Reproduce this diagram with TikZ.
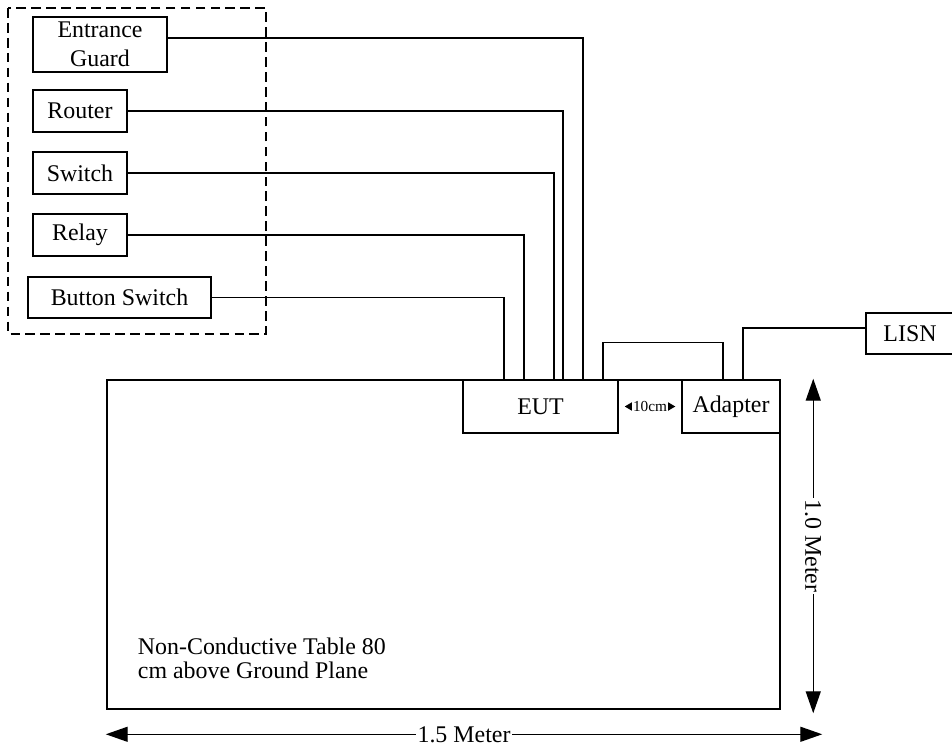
\documentclass[tikz,border=0pt]{standalone}
\usepackage{fontspec}
\setmainfont{Liberation Serif}
\usetikzlibrary{arrows.meta, positioning, calc}
\tikzset{
  every picture/.style={line width=0.8pt},
  box/.style={draw, rectangle, align=center, inner sep=2pt, font=\fontsize{13.6}{16.4}\selectfont},
  wire/.style={draw, line width=0.8pt},
  dim/.style={{Triangle[length=4.4mm, width=3mm]}-{Triangle[length=4.4mm, width=3mm]}, line width=0.8pt},
  lbl/.style={fill=white, inner sep=1pt, font=\fontsize{13.6}{16}\selectfont},
}

\begin{document}
\begin{tikzpicture}[x=0.02cm, y=-0.02cm,
    grp/.style={draw, dashed, dash pattern=on 5.5pt off 3pt, line width=0.8pt},
    tbl/.style={draw, line width=1.5pt, minimum width=13.46cm, minimum height=6.58cm},
    gap/.style={{Triangle[length=1.6mm, width=1.8mm]}-{Triangle[length=1.6mm, width=1.8mm]}, shorten <=1.2mm, shorten >=1.2mm},
    small/.style={fill=white, inner sep=0.5pt, font=\fontsize{8.7}{10}\selectfont}]
  \useasboundingbox (0,0) rectangle (952,746);
  \draw[grp] (8,8) rectangle (266,334);
  \node[box, minimum width=2.68cm, minimum height=1.1cm] (guard) at (100,44.5) {Entrance\\Guard};
  \node[box, minimum width=1.88cm, minimum height=0.84cm] (router) at (80,111) {Router};
  \node[box, minimum width=1.88cm, minimum height=0.84cm] (switch) at (80,173) {Switch};
  \node[box, minimum width=1.88cm, minimum height=0.84cm] (relay) at (80,235) {Relay};
  \node[box, minimum width=3.66cm, minimum height=0.82cm] (button) at (119.5,297.5) {Button Switch};

  \node[tbl] (table) at (443.5,544.5) {};
  \node[box, minimum width=3.1cm, minimum height=1.06cm] (eut) at (540.5,406.5) {EUT};
  \node[box, minimum width=1.96cm, minimum height=1.06cm] (adapter) at (731,406.5) {Adapter};
  \node[box, minimum width=1.76cm, minimum height=0.82cm] (lisn) at (910,333.5) {LISN};
  \node[box, draw=none, anchor=west, align=left, font=\fontsize{13.6}{14.2}\selectfont] (tbltext)
    at ([xshift=0.56cm, yshift=1.04cm]table.south west) {Non-Conductive Table 80\\cm above Ground Plane};

  \draw[wire] ([yshift=0.13cm]guard.east) -| ([xshift=0.85cm]eut.north);
  \draw[wire] (router.east) -| ([xshift=0.45cm]eut.north);
  \draw[wire] (switch.east) -| ([xshift=0.27cm]eut.north);
  \draw[wire] (relay.east) -| ([xshift=-0.33cm]eut.north);
  \draw[wire] (button.east) -| ([xshift=-0.73cm]eut.north);
  \draw[wire] ([xshift=1.25cm]eut.north) -- ++(0,0.74cm) -| ([xshift=-0.16cm]adapter.north);
  \draw[wire] ([xshift=0.24cm]adapter.north) |- ([yshift=0.11cm]lisn.west);
  \draw[gap] (eut.east) -- node[small] {10cm} (adapter.west);

  \coordinate (vtop) at ([xshift=0.64cm]table.north east);
  \coordinate (vbot) at ([xshift=0.64cm, yshift=-0.06cm]table.south east);
  \coordinate (hleft) at ([yshift=-0.48cm]table.south west);
  \coordinate (hright) at ([xshift=0.82cm, yshift=-0.48cm]table.south east);
  \draw[dim] (vtop) -- node[lbl, rotate=-90] {1.0 Meter} (vbot);
  \draw[dim] (hleft) -- node[lbl] {1.5 Meter} (hright);
\end{tikzpicture}
\end{document}
